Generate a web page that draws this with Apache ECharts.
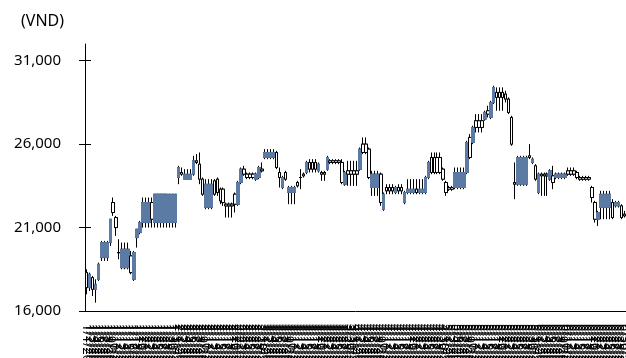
<!DOCTYPE html>
<html><head><meta charset="utf-8">
<script src="https://cdn.jsdelivr.net/npm/echarts@6/dist/echarts.min.js"></script>
<style>html,body{margin:0;padding:0;background:#fff}#c{width:626px;height:358px}</style>
</head><body><div id="c"></div>
<script>
var dates = [
"1/1/2020","1/2/2020","1/3/2020","1/4/2020","1/5/2020","1/6/2020","1/7/2020","1/8/2020","1/9/2020","1/10/2020","1/11/2020","1/12/2020","1/13/2020","1/14/2020","1/15/2020","1/16/2020","1/17/2020","1/18/2020","1/19/2020","1/20/2020","1/21/2020","1/22/2020","1/23/2020","1/24/2020","1/25/2020","1/26/2020","1/27/2020","1/28/2020","1/29/2020","1/30/2020","1/31/2020",
"2/1/2020","2/2/2020","2/3/2020","2/4/2020","2/5/2020","2/6/2020","2/7/2020","2/8/2020","2/9/2020","2/10/2020","2/11/2020","2/12/2020","2/13/2020","2/14/2020","2/15/2020","2/16/2020","2/17/2020","2/18/2020","2/19/2020","2/20/2020","2/21/2020","2/22/2020","2/23/2020","2/24/2020","2/25/2020","2/26/2020","2/27/2020","2/28/2020","2/29/2020",
"3/1/2020","3/2/2020","3/3/2020","3/4/2020","3/5/2020","3/6/2020","3/7/2020","3/8/2020","3/9/2020","3/10/2020","3/11/2020","3/12/2020","3/13/2020","3/14/2020","3/15/2020","3/16/2020","3/17/2020","3/18/2020","3/19/2020","3/20/2020","3/21/2020","3/22/2020","3/23/2020","3/24/2020","3/25/2020","3/26/2020","3/27/2020","3/28/2020","3/29/2020","3/30/2020","3/31/2020",
"4/1/2020","4/2/2020","4/3/2020","4/4/2020","4/5/2020","4/6/2020","4/7/2020","4/8/2020","4/9/2020","4/10/2020","4/11/2020","4/12/2020","4/13/2020","4/14/2020","4/15/2020","4/16/2020","4/17/2020","4/18/2020","4/19/2020","4/20/2020","4/21/2020","4/22/2020","4/23/2020","4/24/2020","4/25/2020","4/26/2020","4/27/2020","4/28/2020","4/29/2020","4/30/2020",
"5/1/2020","5/2/2020","5/3/2020","5/4/2020","5/5/2020","5/6/2020","5/7/2020","5/8/2020","5/9/2020","5/10/2020","5/11/2020","5/12/2020","5/13/2020","5/14/2020","5/15/2020","5/16/2020","5/17/2020","5/18/2020","5/19/2020","5/20/2020","5/21/2020","5/22/2020","5/23/2020","5/24/2020","5/25/2020","5/26/2020","5/27/2020","5/28/2020","5/29/2020","5/30/2020","5/31/2020",
"6/1/2020","6/2/2020","6/3/2020","6/4/2020","6/5/2020","6/6/2020","6/7/2020","6/8/2020","6/9/2020","6/10/2020","6/11/2020","6/12/2020","6/13/2020","6/14/2020","6/15/2020","6/16/2020","6/17/2020","6/18/2020","6/19/2020","6/20/2020","6/21/2020","6/22/2020","6/23/2020","6/24/2020","6/25/2020","6/26/2020","6/27/2020","6/28/2020","6/29/2020","6/30/2020"
];
var opens = [
17400,18200,17300,17600,18800,20100,20100,20100,21500,21900,
21000,19500,19700,19700,19700,18300,19500,20900,21300,22500,
22500,22500,21500,23000,23000,23000,23000,23000,23000,23000,
23000,24600,24200,24200,24200,24200,25000,24900,23900,23000,
23600,23600,23600,23000,23100,22600,22500,22300,22300,22300,
22400,23700,24500,24200,24000,24000,24000,24200,24600,24400,
25500,25500,25500,25500,24600,24000,24000,23900,23400,23400,
23400,23500,24000,24100,24900,24500,24500,24500,24800,24200,
24200,25200,24900,24900,24900,24900,23700,24300,24200,24200,
24200,24200,25700,25500,25500,24000,24200,24200,24200,22500,
23000,23200,23200,23200,23400,23200,23200,23100,23300,23300,
23300,23100,23300,23300,24000,24900,24300,24300,24300,24300,
23900,23100,23300,23300,24300,24300,24300,24300,26100,25200,
27000,27000,27000,27000,27900,27800,28500,29400,28800,28800,
28800,28700,27900,26000,23600,25200,25200,25200,25200,25200,
25100,23900,24200,24100,24100,24100,24400,23700,24200,24200,
24200,24200,24200,24200,24200,24000,23900,23900,23900,23900,
22800,21500,21900,23000,23000,23000,23000,21600,22500,22500,
21600,21700];
var closes = [
18300,17400,18000,17300,17900,19200,19200,19200,20100,22500,
21600,19500,18600,18600,18600,19300,17900,20400,20700,21300,
21300,21300,22500,21300,21300,21300,21300,21300,21300,21300,
21300,24000,24300,23900,23900,23900,24200,25000,24800,23900,
22200,22200,22200,23800,23900,23300,23300,22400,22400,22400,
23000,22400,23700,24500,24200,24200,24200,23900,24000,24500,
25200,25200,25200,25200,25500,24300,23400,24300,23100,23100,
23100,23700,24000,24200,24300,24900,24900,24900,24400,24300,
24300,24500,25000,25000,25000,25000,24900,23600,24400,24400,
24400,24400,24500,26000,26000,25700,23400,23400,23400,24200,
22100,23400,23400,23400,23100,23400,23400,22500,23100,23100,
23100,23300,23100,23100,23100,24000,25200,25200,25200,25200,
24500,23700,23400,23400,23400,23400,23400,23400,24300,26400,
26100,27400,27400,27400,27500,28000,27600,28500,29100,29100,
29100,29000,28700,27600,23700,23600,23600,23600,23600,25300,
24900,24700,23100,24200,24200,24200,23900,24100,24000,24000,
24000,24000,24400,24400,24400,24300,24000,24000,24000,24000,
23400,22500,21500,22200,22200,22200,22200,22500,22300,22300,
22300,21800];
var lows = [
17000,17200,16900,16500,17800,19000,19000,19000,19900,21700,
20500,19100,18500,18500,18500,18200,17800,19800,20600,21000,
21000,21000,21000,21000,21000,21000,21000,21000,21000,21000,
21000,23600,24100,23900,23900,23900,24100,24800,23600,22900,
22100,22100,22100,22900,22900,22400,22300,21600,21600,21600,
21900,22300,23600,24100,23900,23900,23900,23800,23900,24300,
25100,25100,25100,25100,24500,23400,23300,23800,22400,22400,
22400,23400,23300,24000,24200,24300,24300,24300,24300,23800,
23800,24400,24800,24800,24800,24800,23600,23500,23500,23500,
23500,23500,24400,25400,25400,23900,22900,22900,22900,22300,
22000,23000,23000,23000,23000,23000,23000,22400,23000,23000,
23000,23000,23000,23000,23000,23900,24200,24200,24200,24200,
23800,22900,23200,23200,23300,23300,23300,23300,24200,25100,
26000,26700,26700,26700,27400,27600,27500,28400,28000,28000,
28000,28500,27800,25900,22700,23500,23500,23500,23500,25100,
24800,23800,23000,22900,22900,22900,23800,23300,23900,23900,
23900,23900,24100,24100,24100,23900,23800,23800,23800,23800,
22500,21300,21100,21500,21500,21500,21500,21500,22200,22200,
21500,21600];
var highs = [
18500,18300,18100,17900,18900,20200,20200,20200,21500,22800,
21700,20300,20100,20100,20100,19600,19600,20900,21400,22800,
22800,22800,22800,23000,23000,23000,23000,23000,23000,23000,
23000,24700,24600,24500,24500,24500,25300,25400,25500,24000,
23900,23900,23900,23900,24000,23400,23400,22500,22500,22500,
23100,23800,24600,24700,24300,24300,24300,24300,24700,24900,
25700,25700,25700,25700,25600,24600,24100,24400,23500,23500,
23500,23800,24500,24300,25000,25100,25100,25100,24900,24400,
24400,25300,25100,25100,25100,25100,25100,24400,25000,25000,
25000,25000,25800,26400,26400,25800,24400,24400,24400,24300,
23100,23600,23600,23600,23500,23600,23600,23200,23900,23900,
23900,23900,23900,23900,24100,25000,25500,25500,25500,25500,
24600,23800,23500,23500,24600,24600,24600,24600,26200,26600,
27100,27800,27800,27800,28000,28300,28600,29500,29400,29400,
29400,29200,28800,27700,24900,25300,25300,25300,25300,26000,
25200,24800,24300,24300,24300,24300,24500,24700,24300,24300,
24300,24300,24600,24600,24600,24400,24100,24100,24100,24100,
23500,22600,22000,23200,23200,23200,23200,22700,22600,22600,
22400,22000];
var yTicks = [16000, 21000, 26000, 31000];

var full = [], bodies = [];
for (var i = 0; i < dates.length; i++) {
  full.push([opens[i], closes[i], lows[i], highs[i]]);
  bodies.push([opens[i], closes[i], Math.min(opens[i], closes[i]), Math.max(opens[i], closes[i])]);
}
var BLUE = '#5B7BA5';
var FONT = 'Noto Sans';
var chart = echarts.init(document.getElementById('c'), null, {renderer: 'canvas'});
chart.setOption({
  animation: false,
  backgroundColor: '#fff',
  title: {text: '(VND)', left: 16, top: 8, textStyle: {fontSize: 16, fontWeight: 'normal', fontFamily: FONT, color: '#000'}},
  grid: {left: 85, right: 0, top: 44, bottom: 47, containLabel: false, outerBoundsMode: 'none'},
  xAxis: {
    type: 'category', data: dates, boundaryGap: true,
    axisLine: {lineStyle: {color: '#000', width: 1}},
    axisTick: {inside: true, length: 7, interval: 0, lineStyle: {color: '#000'}},
    axisLabel: {interval: 0, rotate: -90, margin: 13, fontSize: 12.5, fontFamily: FONT, color: '#000', hideOverlap: false},
    splitLine: {show: false}
  },
  yAxis: [{
    type: 'value', min: 16000, max: 32000, position: 'left',
    axisLine: {show: true, lineStyle: {color: '#000'}},
    axisTick: {show: true, length: 6, customValues: yTicks, lineStyle: {color: '#000'}},
    axisLabel: {customValues: yTicks, margin: 24, fontSize: 15, fontFamily: FONT, color: '#000',
      formatter: function (v) { return v.toLocaleString('en-US'); }},
    splitLine: {show: false}
  }, {
    type: 'value', min: 16000, max: 32000, position: 'left',
    axisLine: {show: false},
    axisTick: {show: true, inside: true, length: 6, customValues: yTicks, lineStyle: {color: '#000'}},
    axisLabel: {show: false},
    splitLine: {show: false}
  }],
  series: [{
    type: 'candlestick', data: full, barWidth: 3,
    itemStyle: {color: '#fff', color0: BLUE, borderColor: '#000', borderColor0: '#000', borderColorDoji: '#000', borderWidth: 1}
  }, {
    type: 'candlestick', data: bodies, barWidth: 3,
    itemStyle: {color: '#fff', color0: BLUE, borderColor: '#000', borderColor0: BLUE, borderColorDoji: '#000', borderWidth: 1}
  }]
});
</script>
</body></html>
